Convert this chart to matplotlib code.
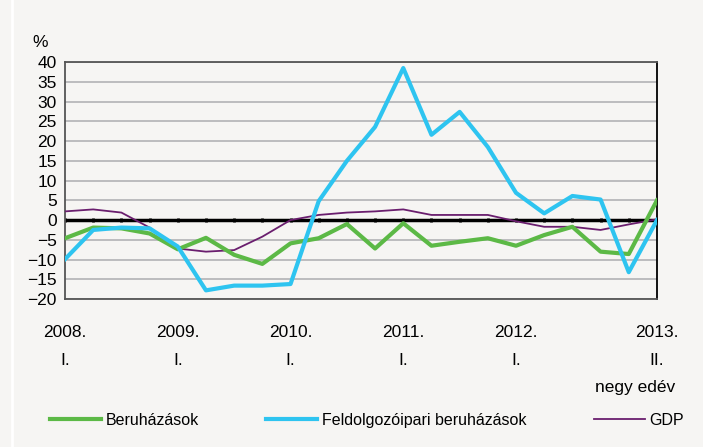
import matplotlib.pyplot as plt
from matplotlib.lines import Line2D

# negyedéves adatok, 2008 I. - 2013 II.
quarters = list(range(22))
beruhazasok = [-4.6, -1.9, -2.1, -3.4, -7.4, -4.5, -8.8, -11.1, -5.9, -4.6, -1.0,
               -7.2, -0.8, -6.5, -5.5, -4.6, -6.5, -3.8, -1.7, -8.0, -8.6, 5.0]
feldolgozoipari = [-9.9, -2.5, -1.9, -2.1, -6.7, -17.8, -16.6, -16.6, -16.2, 4.8, 15.0,
                   23.6, 38.5, 21.6, 27.4, 18.5, 6.9, 1.7, 6.1, 5.2, -13.2, 0.0]
gdp = [2.2, 2.7, 1.9, -1.9, -7.2, -8.0, -7.6, -4.2, 0.0, 1.3, 1.9,
       2.2, 2.7, 1.3, 1.3, 1.3, -0.3, -1.7, -1.7, -2.5, -1.1, 0.2]

tick_pos = [0, 4, 8, 12, 16, 21]
tick_years = ['2008.', '2009.', '2010.', '2011.', '2012.', '2013.']
tick_quarters = ['I.', 'I.', 'I.', 'I.', 'I.', 'II.']
y_ticks = list(range(-20, 41, 5))

bg = '#f6f5f3'
green = '#5cb946'
blue = '#2ec4f0'
purple = '#6a1e6e'

plt.rcParams['font.family'] = ['Liberation Sans Narrow', 'Liberation Sans', 'DejaVu Sans']

fig = plt.figure(figsize=(7.03, 4.47), dpi=100, facecolor=bg)
ax = fig.add_axes([0.0925, 0.331, 0.842, 0.530], facecolor=bg)

# rácsvonalak
for v in y_ticks:
    ax.axhline(v, color='#bcbcbe', lw=1.4, zorder=1)

# nulla vonal kis jelölőkkel
ax.plot(quarters, [0] * len(quarters), color='black', lw=2.5, marker='|',
        markersize=3.5, markeredgewidth=2, zorder=2)

ax.plot(quarters, gdp, color=purple, lw=1.3, zorder=3, label='GDP')
ax.plot(quarters, beruhazasok, color=green, lw=3, zorder=4, label='Beruházások')
ax.plot(quarters, feldolgozoipari, color=blue, lw=3, zorder=5,
        label='Feldolgozóipari beruházások')

ax.set_xlim(0, 21)
ax.set_ylim(-20, 40)
ax.set_yticks(y_ticks)
ax.set_yticklabels([str(v).replace('-', '\u2212') for v in y_ticks], fontsize=12.5)
ax.set_xticks(tick_pos)
ax.set_xticklabels([])
ax.tick_params(axis='both', length=0)
ax.tick_params(axis='y', pad=6)

# kétsoros x feliratok, középre igazítva
xt = ax.get_xaxis_transform()
for p, yr, q in zip(tick_pos, tick_years, tick_quarters):
    ax.text(p, -0.14, yr, transform=xt, ha='center', va='center', fontsize=12.5)
    ax.text(p, -0.26, q, transform=xt, ha='center', va='center', fontsize=12.5)

for s in ax.spines.values():
    s.set_color('#555555')
    s.set_linewidth(1.3)
ax.spines['right'].set_color('black')

fig.text(0.057, 0.905, '%', fontsize=12.5, ha='center', va='center')
fig.text(0.960, 0.133, 'negy edév', fontsize=12.5, ha='right', va='center')

# jelmagyarázat
handles = [Line2D([], [], color=green, lw=3), Line2D([], [], color=blue, lw=3),
           Line2D([], [], color=purple, lw=1.3)]
labels = ['Beruházások', 'Feldolgozóipari beruházások', 'GDP']
fig.legend(handles, labels, loc='center left', bbox_to_anchor=(0.062, 0.06), ncol=3,
           frameon=False, fontsize=11.5, handlelength=3.2, handletextpad=0.3,
           columnspacing=4.2, borderaxespad=0)

# fehér sáv a bal oldalon
fig.add_artist(Line2D([0.0165, 0.0165], [0, 1], transform=fig.transFigure,
                      color='white', lw=2))

fig.savefig('out.png', dpi=100, facecolor=bg)
